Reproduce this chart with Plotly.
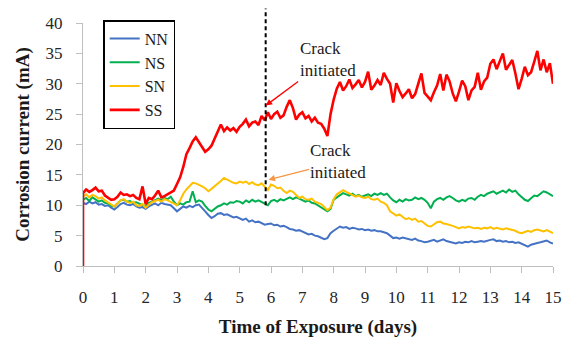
import plotly.graph_objects as go

# ---------------- data ----------------
day_grid = [i / 10 for i in range(151)]          # 0.0 .. 15.0 days
days = [0.0] + day_grid                          # leading point: current starts at 0

NN = [0.0,
      10.4, 10.2, 10.6, 10.3, 10.5, 10.1, 10.2, 9.9, 10.0, 9.6,
      9.3, 9.7, 10.2, 10.4, 10.1, 10.0, 10.2, 9.8, 9.6, 9.7,
      9.4, 9.8, 10.1, 10.3, 10.0, 10.4, 10.2, 10.1, 10.0, 9.5,
      9.0, 9.4, 9.8, 9.6, 9.9, 9.7, 10.0, 10.1, 9.6, 9.0,
      8.4, 7.9, 8.2, 8.6, 8.7, 8.4, 8.5, 8.2, 8.0, 8.1,
      7.8, 7.6, 7.8, 7.3, 7.5, 7.2, 7.3, 7.0, 6.8, 6.9,
      7.0, 6.7, 6.8, 6.5, 6.6, 6.4, 6.1, 6.0, 5.8, 5.9,
      5.7, 5.4, 5.2, 5.3, 5.0, 4.9, 4.6, 4.4, 4.6, 5.4,
      5.8, 6.2, 6.5, 6.3, 6.4, 6.1, 6.3, 6.2, 6.0, 6.1,
      5.9, 6.0, 5.8, 5.9, 5.7, 5.7, 5.6, 5.4, 5.0, 4.6,
      4.7, 4.5, 4.7, 4.6, 4.4, 4.3, 4.5, 4.2, 4.1, 3.9,
      4.0, 4.1, 4.3, 4.0, 4.2, 4.4, 4.1, 4.0, 3.8, 3.7,
      3.9, 3.8, 4.0, 3.9, 4.1, 3.9, 4.0, 4.1, 4.0, 4.2,
      4.3, 4.4, 4.1, 4.2, 4.0, 4.1, 3.9, 4.0, 3.8, 3.9,
      3.7, 3.5, 3.2, 3.5, 3.7, 3.8, 3.9, 4.1, 4.2, 3.9,
      3.7]

NS = [0.0,
      10.9, 11.2, 10.7, 11.3, 11.0, 10.6, 10.8, 10.4, 10.3, 9.9,
      9.8, 10.3, 10.8, 10.9, 10.6, 10.7, 10.4, 10.5, 10.2, 10.0,
      9.9, 10.4, 10.6, 10.9, 11.1, 10.8, 11.2, 11.0, 11.4, 10.6,
      10.0, 10.3, 10.1, 10.5, 10.6, 12.3, 10.5, 10.8, 10.6, 9.9,
      9.3, 9.0, 9.4, 9.8, 10.0, 10.3, 10.1, 10.5, 10.4, 10.7,
      10.6, 10.3, 10.8, 10.5, 10.9, 10.6, 10.8, 10.5, 10.3, 10.0,
      10.7, 10.9, 10.6, 11.0, 10.8, 11.1, 11.3, 11.0, 11.3, 11.1,
      10.9, 10.6, 10.8, 10.4, 10.3, 10.0, 9.6, 9.4, 9.0, 9.4,
      10.9, 11.3, 11.7, 12.0, 11.8, 11.6, 11.9, 11.5, 11.7, 11.4,
      11.6, 11.8, 11.5, 11.9, 11.7, 12.0, 11.7, 11.9, 11.3, 10.8,
      10.5, 10.9, 10.6, 11.0, 10.8, 10.9, 11.3, 11.0, 11.2, 10.9,
      10.4, 9.5, 10.6, 11.0, 11.2, 10.9, 11.3, 11.5, 11.2, 10.8,
      10.6, 10.9, 10.7, 11.1, 11.2, 10.9, 11.4, 11.7, 11.5, 11.9,
      12.1, 12.3, 11.9, 12.2, 12.4, 12.1, 12.6, 12.2, 12.4, 11.8,
      11.3, 10.9, 10.7, 11.1, 11.6, 11.5, 11.9, 12.3, 12.1, 11.8,
      11.5]

SN = [0.0,
      11.4, 11.8, 11.3, 11.7, 11.5, 11.1, 11.3, 10.8, 10.5, 10.1,
      9.8, 10.3, 10.8, 11.0, 10.6, 10.4, 10.6, 10.0, 9.9, 10.2,
      9.6, 10.1, 10.5, 10.7, 10.9, 10.6, 11.0, 10.8, 10.5, 10.2,
      10.0, 10.8, 11.9, 12.6, 13.1, 13.7, 13.6, 13.4, 13.1, 12.8,
      12.3, 12.7, 13.1, 13.6, 14.0, 14.5, 14.2, 14.0, 13.7, 13.6,
      13.9, 13.7, 13.9, 13.5, 13.8, 13.4, 13.3, 13.6, 13.1, 12.5,
      13.4, 13.2, 12.8, 12.9, 12.4, 12.0, 12.4, 12.2, 11.7, 11.2,
      11.4, 11.0, 10.9, 11.1, 10.6, 10.4, 10.2, 9.7, 9.2, 9.6,
      11.0, 11.8, 12.1, 12.5, 12.2, 11.9, 11.7, 11.4, 11.6, 11.3,
      11.2, 11.4, 11.0, 10.9, 11.1, 10.6, 10.4, 10.0, 9.0, 8.7,
      8.3, 8.5, 8.1, 7.7, 7.9, 7.6, 7.8, 7.3, 7.4, 7.0,
      6.6, 6.5, 6.9, 7.2, 7.3, 7.0, 6.9, 6.8, 6.6, 6.4,
      6.2, 6.4, 6.3, 6.5, 6.4, 6.2, 6.3, 6.1, 6.3, 6.2,
      6.4, 6.1, 6.3, 6.2, 6.0, 6.2, 6.1, 5.9, 5.8, 5.5,
      5.4, 5.6, 5.8, 5.6, 5.9, 6.0, 5.8, 5.7, 5.9, 5.6,
      5.4]

SS = [0.0,
      12.0, 12.6, 12.2, 12.5, 12.9, 12.3, 12.4, 11.6, 11.3, 10.9,
      11.0, 11.4, 12.1, 11.7, 11.8, 11.5, 11.7, 11.2, 11.0, 13.1,
      10.2, 11.2, 11.0, 11.6, 12.4, 11.3, 11.5, 11.8, 12.1, 12.4,
      13.5, 14.6, 16.3, 18.4, 19.4, 20.5, 21.2, 20.3, 19.6, 18.8,
      19.2, 19.8, 21.0, 22.4, 23.3, 22.2, 22.8, 22.3, 22.7, 22.1,
      22.9, 23.4, 24.1, 23.0, 23.6, 23.8, 23.2, 24.7, 24.0, 25.3,
      24.2, 25.0, 25.4, 24.4, 24.8, 26.2, 27.3, 26.0, 24.1, 24.9,
      25.3, 24.3, 24.7, 23.8, 24.4, 23.6, 23.4, 22.6, 21.4, 25.0,
      27.4, 29.2, 30.3, 28.9, 29.6, 30.7, 29.3, 29.9, 30.6, 29.4,
      30.3, 32.0, 29.0, 29.7, 30.6, 29.8, 31.8, 30.8, 30.0, 26.9,
      30.1, 28.8, 27.8, 28.4, 29.1, 27.6, 28.3, 30.0, 31.7, 28.5,
      27.8, 27.3, 28.6, 29.7, 31.6, 28.9, 31.5, 30.4, 28.4, 27.1,
      28.7, 30.5, 29.6, 27.3, 28.9, 29.5, 31.8, 29.0, 30.4, 31.0,
      33.3, 34.0, 32.4, 33.6, 35.0, 32.3, 33.2, 33.9, 31.7, 29.1,
      30.8, 32.8, 31.4, 31.9, 33.6, 35.4, 32.2, 34.0, 31.9, 33.4,
      30.0]

series_names = ["NN", "NS", "SN", "SS"]
series_values = [NN, NS, SN, SS]
series_colors = ["#4472C4", "#00B050", "#FFC000", "#FF0000"]
series_widths = [2, 2, 2, 2.6]

x_ticks = list(range(0, 16))
y_ticks = list(range(0, 41, 5))

crack_day = 5.83          # vertical dashed marker
crack_ss = (5.83, 26.4)   # arrow tip on SS curve
crack_sn = (5.92, 14.2)   # arrow tip on SN curve
dash_bottom_value = 10.0

# ---------------- figure ----------------
SERIF = "Liberation Serif"
fig = go.Figure()
for name, vals, col, w in zip(series_names, series_values, series_colors, series_widths):
    fig.add_trace(go.Scatter(x=days, y=vals, name=name, mode="lines",
                             line=dict(color=col, width=w)))

fig.add_shape(type="line", xref="x", yref="paper",
              x0=crack_day, x1=crack_day, y0=dash_bottom_value / 40, y1=1.06,
              line=dict(color="black", width=2, dash="4px,3px"))

fig.add_annotation(x=crack_ss[0], y=crack_ss[1], xref="x", yref="y",
                   text="Crack<br>initiated", showarrow=True,
                   ax=62, ay=-46, axref="pixel", ayref="pixel",
                   arrowcolor="#FF0000", arrowwidth=1.3, arrowhead=2, arrowsize=1,
                   font=dict(family=SERIF, size=17, color="#1a1a1a"), align="left")
fig.add_annotation(x=crack_sn[0], y=crack_sn[1], xref="x", yref="y",
                   text="Crack<br>initiated", showarrow=True,
                   ax=70, ay=-18, axref="pixel", ayref="pixel",
                   arrowcolor="#F79646", arrowwidth=1.3, arrowhead=2, arrowsize=1,
                   font=dict(family=SERIF, size=17, color="#1a1a1a"), align="left")

fig.update_layout(
    width=563, height=330,
    margin=dict(l=75, r=18, t=15, b=72, autoexpand=False),
    paper_bgcolor="white", plot_bgcolor="white",
    font=dict(family=SERIF, color="#262626"),
    showlegend=True,
    legend=dict(x=0.043, y=1.012, xanchor="left", yanchor="top",
                bordercolor="black", borderwidth=1.5, bgcolor="white",
                font=dict(family=SERIF, size=16, color="#1a1a1a"),
                tracegroupgap=0, itemwidth=30),
    xaxis=dict(range=[0, 15], tickvals=x_ticks, showgrid=False, zeroline=False,
               showline=True, linecolor="#BFBFBF", linewidth=1,
               ticks="outside", ticklen=6, tickcolor="#BFBFBF",
               ticklabelstandoff=10,
               tickfont=dict(family=SERIF, size=17, color="#262626"),
               title=dict(text="<b>Time of Exposure (days)</b>", standoff=13,
                          font=dict(family=SERIF, size=19, color="#1a1a1a"))),
    yaxis=dict(range=[0, 40], tickvals=y_ticks, showgrid=False, zeroline=False,
               showline=True, linecolor="#BFBFBF", linewidth=1,
               ticks="outside", ticklen=6, tickcolor="#BFBFBF",
               ticklabelstandoff=10,
               tickfont=dict(family=SERIF, size=17, color="#262626"),
               title=dict(text="<b>Corrosion current (mA)</b>", standoff=10,
                          font=dict(family=SERIF, size=19, color="#1a1a1a"))),
)

fig.write_html("out.html")
